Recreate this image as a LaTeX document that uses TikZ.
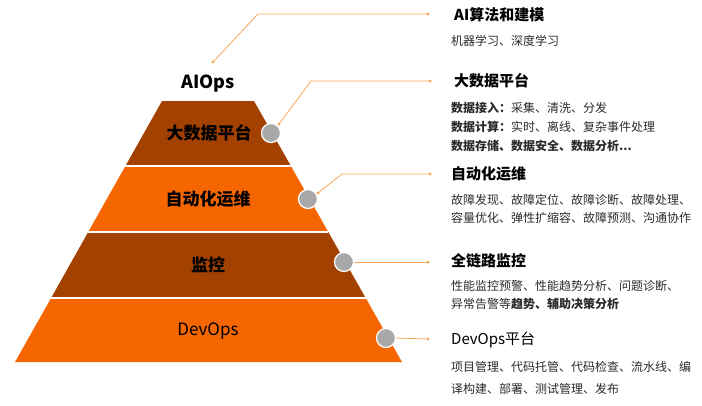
\documentclass[tikz,border=0pt]{standalone}
\usepackage{fontspec}
\setmainfont{Noto Sans CJK SC}
\usepackage{tikz}
\usetikzlibrary{calc,positioning}
\definecolor{darkband}{HTML}{A34100}
\definecolor{lightband}{HTML}{F56600}
\definecolor{leader}{HTML}{F9A65A}
\definecolor{knob}{HTML}{A8A8A8}
\definecolor{bodytext}{HTML}{2B2B2B}

\begin{document}
\begin{tikzpicture}[x=1pt,y=-1pt,
    sep/.style={white, line width=1.2pt},
    layer/.style={inner sep=0pt, font=\fontsize{17}{17}\selectfont\bfseries, text=black},
    knobs/.style={circle, fill=knob, draw=white, line width=1.2pt, minimum size=19pt, inner sep=0pt},
    lead/.style={leader, line width=0.8pt},
    tip/.style={circle, fill=leader, inner sep=0pt, minimum size=3.2pt},
    title/.style={anchor=west, inner sep=0pt, font=\fontsize{15}{15}\selectfont\bfseries, text=black},
    body/.style={anchor=west, inner sep=0pt, font=\fontsize{12}{12}\selectfont, text=bodytext}]
        \useasboundingbox (0,0) rectangle (702,405);
        % Define coordinates
        \coordinate (L0) at (162,101);   \coordinate (R0) at (254,101);
        \coordinate (L1) at (125.4,166); \coordinate (R1) at (290.9,166);
        \coordinate (L2) at (88.2,232);  \coordinate (R2) at (328.3,232);
        \coordinate (L3) at (51.1,298);  \coordinate (R3) at (365.7,298);
        \coordinate (L4) at (15,362);    \coordinate (R4) at (402,362);
        % Draw the pyramid bands
        \fill[darkband] (L0) -- (R0) -- (R1) -- (L1) -- cycle;
        \fill[lightband] (L1) -- (R1) -- (R2) -- (L2) -- cycle;
        \fill[darkband] (L2) -- (R2) -- (R3) -- (L3) -- cycle;
        \fill[lightband] (L3) -- (R3) -- (R4) -- (L4) -- cycle;
        \draw[sep] (L1) -- (R1);
        \draw[sep] (L2) -- (R2);
        \draw[sep] (L3) -- (R3);
        % Layer labels
        \node[inner sep=0pt, font=\fontsize{18}{18}\selectfont\bfseries] (aiops) at (208,84) {AIOps};
        \node[layer] (bigdata) at (209,133) {大数据平台};
        \node[layer] (autoops) at (208,199) {自动化运维};
        \node[layer] (monitor) at (208,265) {监控};
        \node[layer, font=\fontsize{17}{17}\selectfont] (devops) at (208,331) {DevOps};
        % Knobs on the right edge
        \node[knobs] (k1) at (271,133) {};
        \node[knobs] (k2) at (308,199) {};
        \node[knobs] (k3) at (344,262) {};
        \node[knobs] (k4) at (386,338) {};
        % Leader lines
        \node[tip] (s0) at (213,62) {};
        \node[tip] (e0) at (428,14) {};
        \coordinate (b0) at (258,14);
        \draw[lead] (s0.center) -- (b0) -- (e0.center);
        \node[tip] (s1) at (279,124) {};
        \node[tip] (e1) at (430,81) {};
        \coordinate (b1) at (311,81);
        \draw[lead] (s1.center) -- (b1) -- (e1.center);
        \node[tip] (s2) at (318,193) {};
        \node[tip] (e2) at (430,174) {};
        \coordinate (b2) at (342,174);
        \draw[lead] (s2.center) -- (b2) -- (e2.center);
        \node[tip] (e3) at (428,262) {};
        \draw[lead] (k3.east) -- (e3.center);
        \node[tip] (e4) at (428,339) {};
        \draw[lead] (k4.east) -- (e4.center);
        % Titles and descriptions
        \node[title] (t0) at (454,15) {AI算法和建模};
        \node[body] (d0) at (451,41) {机器学习、深度学习};
        \node[title] (t1) at (454,81) {大数据平台};
        \node[body] (d1a) at (451,108) {\textbf{数据接入：}采集、清洗、分发};
        \node[body] (d1b) at (451,127) {\textbf{数据计算：}实时、离线、复杂事件处理};
        \node[body] (d1c) at (451,146) {\textbf{数据存储、数据安全、数据分析...}};
        \node[title] (t2) at (451,174) {自动化运维};
        \node[body] (d2a) at (451,200) {故障发现、故障定位、故障诊断、故障处理、};
        \node[body] (d2b) at (451,218) {容量优化、弹性扩缩容、故障预测、沟通协作};
        \node[title] (t3) at (451,261) {全链路监控};
        \node[body] (d3a) at (451,286) {性能监控预警、性能趋势分析、问题诊断、};
        \node[body] (d3b) at (451,304) {异常告警等\textbf{趋势、辅助决策分析}};
        \node[title, font=\fontsize{15}{15}\selectfont] (t4) at (451,340) {DevOps平台};
        \node[body] (d4a) at (451,367) {项目管理、代码托管、代码检查、流水线、编};
        \node[body] (d4b) at (451,389) {译构建、部署、测试管理、发布};
      \end{tikzpicture}
\end{document}
